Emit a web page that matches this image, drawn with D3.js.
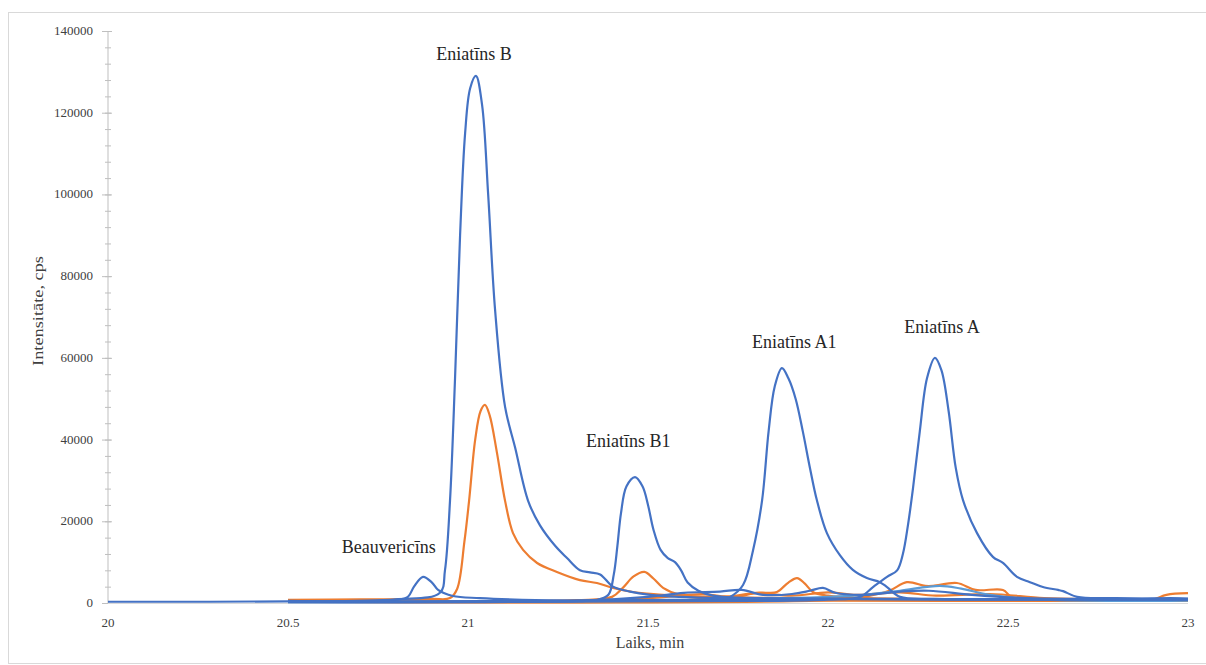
<!DOCTYPE html>
<html>
<head>
<meta charset="utf-8">
<title>Hromatogramma</title>
<style>
  body { margin: 0; padding: 0; background: #fff; }
  text { font-family: "Liberation Serif", "DejaVu Serif", serif; }
</style>
</head>
<body>
<div id="chart"></div>
<script src="https://d3js.org/d3.v7.min.js"></script>
<script>
// time axis (min) and intensity ticks
var xTicks = [20, 20.5, 21, 21.5, 22, 22.5, 23];
var yTicks = [0, 20000, 40000, 60000, 80000, 100000, 120000, 140000];

// each trace: retention times (min) and intensities (cps)
var enbBlueT = [20, 20.5, 20.8, 20.922, 20.936, 20.95, 20.964, 20.978, 20.992, 21.006, 21.022, 21.039, 21.056, 21.075, 21.103, 21.131, 21.167, 21.2, 21.242, 21.275, 21.311, 21.339, 21.367, 21.403, 21.45, 21.506, 21.589, 21.7, 22, 22.5, 23];
var enbBlueV = [300, 400, 900, 2500, 8000, 25000, 55000, 90000, 115000, 126000, 129000, 122000, 100000, 72000, 48000, 38000, 25000, 19000, 14000, 11000, 8000, 7500, 7000, 4000, 2800, 2000, 1500, 1200, 1000, 900, 800];

var enbOrangeT = [20.5, 20.7, 20.9, 20.95, 20.97, 20.99, 21.003, 21.02, 21.035, 21.047, 21.06, 21.08, 21.103, 21.125, 21.153, 21.192, 21.247, 21.311, 21.358, 21.403, 21.458, 21.542, 21.65, 21.8, 22, 22.5, 23];
var enbOrangeV = [800, 900, 1000, 1200, 3500, 15000, 25000, 40000, 47000, 48500, 46000, 37000, 25000, 17100, 13000, 9800, 7600, 5600, 4900, 3700, 2700, 2000, 1200, 800, 600, 500, 500];

var beaT = [20.5, 20.8, 20.833, 20.85, 20.875, 20.9, 20.917, 20.958, 21.033, 21.15, 21.3, 21.6, 22, 22.5, 23];
var beaV = [500, 800, 1500, 4000, 6400, 5000, 3200, 1700, 1200, 800, 600, 800, 1000, 900, 1000];

var enb1T = [20.5, 21.2, 21.36, 21.39, 21.405, 21.415, 21.425, 21.44, 21.464, 21.485, 21.5, 21.515, 21.535, 21.555, 21.575, 21.592, 21.61, 21.64, 21.68, 21.75, 22, 22.5, 23];
var enb1V = [300, 400, 800, 2000, 7000, 14000, 22000, 28500, 30800, 28500, 24000, 18000, 13000, 11000, 10000, 8000, 5000, 3000, 1800, 1300, 1000, 800, 900];

var ena1T = [20.5, 21.6, 21.7, 21.728, 21.764, 21.792, 21.817, 21.835, 21.852, 21.872, 21.89, 21.91, 21.93, 21.95, 21.969, 21.997, 22.033, 22.069, 22.108, 22.144, 22.164, 22.2, 22.3, 22.6, 23];
var ena1V = [300, 700, 900, 1500, 4400, 13000, 25200, 42000, 53000, 57500, 55000, 50000, 42000, 33000, 25200, 17100, 11700, 8100, 6100, 5100, 3900, 1500, 1000, 900, 800];

var enaT = [20.5, 21.8, 22, 22.089, 22.125, 22.164, 22.192, 22.208, 22.222, 22.236, 22.255, 22.275, 22.297, 22.315, 22.335, 22.355, 22.375, 22.414, 22.458, 22.486, 22.525, 22.561, 22.597, 22.639, 22.653, 22.692, 22.8, 23];
var enaV = [300, 500, 800, 1500, 3900, 6400, 8000, 12000, 19000, 28000, 42000, 55000, 60000, 57000, 47000, 33000, 25200, 17100, 11300, 9800, 6400, 5100, 3900, 3200, 2900, 1500, 1200, 1000];

var orB1T = [20.5, 21.3, 21.4, 21.43, 21.46, 21.49, 21.515, 21.542, 21.589, 21.7, 21.9, 22.2, 22.6, 23];
var orB1V = [500, 700, 1500, 3700, 6500, 7600, 6000, 3700, 2000, 1500, 1200, 1000, 700, 800];

var orA1T = [20.5, 21.6, 21.75, 21.8, 21.83, 21.858, 21.89, 21.914, 21.935, 21.958, 22, 22.1, 22.4, 23];
var orA1V = [300, 600, 1500, 2500, 2500, 2700, 5000, 6100, 4800, 2700, 1800, 1200, 800, 500];

var orAT = [20.5, 22, 22.1, 22.17, 22.219, 22.27, 22.292, 22.358, 22.41, 22.486, 22.51, 22.6, 22.8, 22.9, 22.94, 23];
var orAV = [300, 700, 1500, 3000, 5100, 4200, 4200, 4900, 3200, 3200, 1500, 800, 500, 800, 2000, 2400];

var orNoiseT = [20.5, 21.4, 21.55, 21.65, 21.72, 21.8, 21.9, 22.0, 22.08, 22.2, 22.3, 22.45, 22.6, 22.75, 22.9, 23];
var orNoiseV = [400, 600, 1500, 2200, 1600, 2400, 1800, 2600, 2000, 2600, 1800, 2200, 1200, 900, 700, 900];

var lightT = [20.5, 21.5, 21.8, 22, 22.1, 22.2, 22.311, 22.37, 22.45, 22.6, 23];
var lightV = [200, 500, 1000, 1500, 2000, 3000, 4200, 3500, 2000, 800, 600];

var noiseT = [20.5, 21.3, 21.5, 21.6, 21.7, 21.76, 21.82, 21.9, 21.95, 21.986, 22.02, 22.1, 22.2, 22.28, 22.4, 22.55, 22.7, 22.85, 22.95, 23];
var noiseV = [200, 500, 1500, 2500, 2800, 3200, 2000, 2200, 3000, 3700, 2500, 2000, 2800, 3000, 2000, 1200, 1000, 900, 1200, 1000];

var peakNames = ["Beauvericīns", "Eniatīns B", "Eniatīns B1", "Eniatīns A1", "Eniatīns A"];
var peakTimes = [20.78, 21.017, 21.445, 21.906, 22.317];
var peakLabelV = [12200, 132900, 38200, 62400, 66100];

var blue = "#4472C4", orange = "#ED7D31", lightBlue = "#5B9BD5";
var traces = [
  { t: orNoiseT, v: orNoiseV, c: orange },
  { t: enbOrangeT, v: enbOrangeV, c: orange },
  { t: orB1T, v: orB1V, c: orange },
  { t: orA1T, v: orA1V, c: orange },
  { t: orAT, v: orAV, c: orange },
  { t: lightT, v: lightV, c: lightBlue },
  { t: noiseT, v: noiseV, c: blue },
  { t: beaT, v: beaV, c: blue },
  { t: enb1T, v: enb1V, c: blue },
  { t: ena1T, v: ena1V, c: blue },
  { t: enaT, v: enaV, c: blue },
  { t: enbBlueT, v: enbBlueV, c: blue }
];

var width = 1206, height = 665;
var svg = d3.select("#chart").append("svg")
    .attr("width", width)
    .attr("height", height);

// outer frame
svg.append("rect")
    .attr("x", 8.5).attr("y", 12.5)
    .attr("width", 1205).attr("height", 651)
    .attr("fill", "none")
    .attr("stroke", "#d9d9d9");

var x = d3.scaleLinear().domain([20, 23]).range([108, 1188]);
var y = d3.scaleLinear().domain([0, 140000]).range([603, 31]);

// y axis line and ticks
var gy = svg.append("g");
gy.append("line")
    .attr("x1", 108).attr("x2", 108)
    .attr("y1", y(140000)).attr("y2", y(0))
    .attr("stroke", "#bfbfbf");
gy.selectAll("line.minor")
    .data(d3.range(0, 140001, 4000))
    .enter().append("line")
    .attr("class", "minor")
    .attr("x1", 105).attr("x2", 111)
    .attr("y1", function(d) { return y(d) + 0.5; })
    .attr("y2", function(d) { return y(d) + 0.5; })
    .attr("stroke", "#bfbfbf");
gy.selectAll("line.major")
    .data(yTicks)
    .enter().append("line")
    .attr("class", "major")
    .attr("x1", 102).attr("x2", 112)
    .attr("y1", function(d) { return y(d) + 0.5; })
    .attr("y2", function(d) { return y(d) + 0.5; })
    .attr("stroke", "#bfbfbf");
gy.selectAll("text")
    .data(yTicks)
    .enter().append("text")
    .attr("x", 93)
    .attr("y", function(d) { return y(d) + 4; })
    .attr("text-anchor", "end")
    .attr("font-size", 13)
    .attr("fill", "#404040")
    .text(function(d) { return d; });

// x axis line and labels
svg.append("line")
    .attr("x1", x(20)).attr("x2", x(23))
    .attr("y1", y(0) + 0.5).attr("y2", y(0) + 0.5)
    .attr("stroke", "#d9d9d9");
svg.selectAll("text.xt")
    .data(xTicks)
    .enter().append("text")
    .attr("class", "xt")
    .attr("x", function(d) { return x(d); })
    .attr("y", 627)
    .attr("text-anchor", "middle")
    .attr("font-size", 13)
    .attr("fill", "#404040")
    .text(function(d) { return d; });

// axis titles
svg.append("text")
    .attr("x", 650).attr("y", 648)
    .attr("text-anchor", "middle")
    .attr("font-size", 16)
    .attr("fill", "#404040")
    .text("Laiks, min");
svg.append("text")
    .attr("transform", "translate(43,311) rotate(-90)")
    .attr("text-anchor", "middle")
    .attr("font-size", 15)
    .attr("textLength", 110)
    .attr("lengthAdjust", "spacingAndGlyphs")
    .attr("fill", "#404040")
    .text("Intensitāte, cps");

// traces
var line = d3.line()
    .x(function(d) { return x(d[0]); })
    .y(function(d) { return y(d[1]); })
    .curve(d3.curveCatmullRom.alpha(0.5));

svg.append("g").selectAll("path")
    .data(traces)
    .enter().append("path")
    .attr("d", function(s) { return line(d3.zip(s.t, s.v)); })
    .attr("fill", "none")
    .attr("stroke", function(s) { return s.c; })
    .attr("stroke-width", 2.2)
    .attr("stroke-linejoin", "round");

// peak labels
svg.selectAll("text.peak")
    .data(peakNames)
    .enter().append("text")
    .attr("class", "peak")
    .attr("x", function(d, i) { return x(peakTimes[i]); })
    .attr("y", function(d, i) { return y(peakLabelV[i]); })
    .attr("text-anchor", "middle")
    .attr("font-size", 18)
    .attr("fill", "#262626")
    .text(function(d) { return d; });
</script>
</body>
</html>
